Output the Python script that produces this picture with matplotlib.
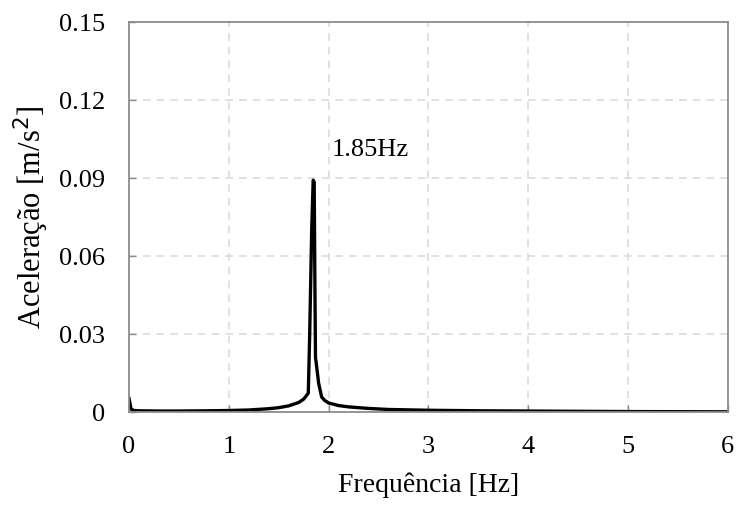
import numpy as np
import matplotlib.pyplot as plt

plt.rcParams['font.family'] = ['Liberation Serif', 'DejaVu Serif']

# frequency response
freq = [0.0, 0.02, 0.05, 0.1, 0.3, 0.5, 0.8, 1.0, 1.2, 1.4, 1.5, 1.6, 1.7,
        1.75, 1.796, 1.81, 1.83, 1.845, 1.855, 1.862, 1.868, 1.875, 1.90,
        1.93, 1.96, 2.0, 2.1, 2.2, 2.4, 2.6, 3.0, 3.5, 4.0, 5.0, 6.0]
acc = [0.0052, 0.0012, 0.0006, 0.0005, 0.0004, 0.0004, 0.0005, 0.0006,
       0.0008, 0.0013, 0.0017, 0.0024, 0.0037, 0.005, 0.0073, 0.03, 0.07,
       0.0892, 0.0885, 0.05, 0.021, 0.019, 0.011, 0.0058, 0.0045, 0.0035,
       0.0025, 0.002, 0.0014, 0.001, 0.0007, 0.0005, 0.0004, 0.0002, 0.0001]

xticks = [0, 1, 2, 3, 4, 5, 6]
yticks = [0, 0.03, 0.06, 0.09, 0.12, 0.15]
ytick_labels = ['0', '0.03', '0.06', '0.09', '0.12', '0.15']

fig = plt.figure(figsize=(7.39, 5.05), dpi=100)
ax = fig.add_axes([0.1746, 0.184, 0.8104, 0.772])

ax.plot(freq, acc, color='black', lw=2.4)
ax.text(2.03, 0.101, '1.85Hz', fontsize=19, va='center', ha='left')

ax.set_xlim(0, 6)
ax.set_ylim(0, 0.15)
ax.set_xticks(xticks)
ax.set_yticks(yticks)
ax.set_yticklabels(ytick_labels)
ax.grid(True, ls=(0, (5, 4)), color='#d9d9d9', lw=1.1)
ax.set_axisbelow(True)

for s in ax.spines.values():
    s.set_color('#8c8c8c')
    s.set_linewidth(1.3)
ax.tick_params(direction='in', length=5, width=1, color='#8c8c8c',
               labelsize=19)
ax.tick_params(axis='x', pad=17)
ax.tick_params(axis='y', pad=17)
ax.set_xlabel('Frequência [Hz]', fontsize=20, labelpad=11)
ax.set_ylabel('Aceleração [m/s$^2$]', fontsize=22, labelpad=6)

fig.savefig('out.png', dpi=100)
